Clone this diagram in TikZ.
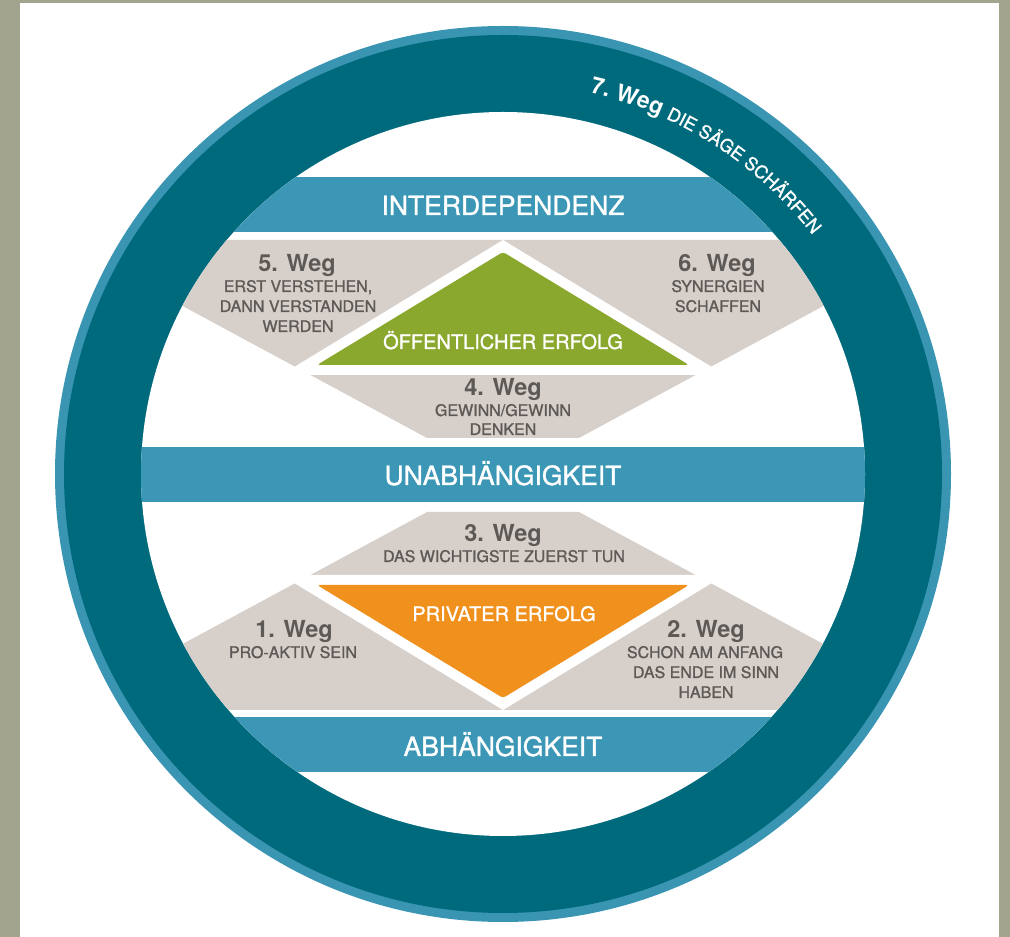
\documentclass[tikz,border=0pt]{standalone}
\usepackage{fontspec}
\setmainfont{TeX Gyre Heros}
\newfontfamily\medfont[FakeBold=1.2]{TeX Gyre Heros}
\usetikzlibrary{decorations.text}
\definecolor{bgolive}{HTML}{A2A48D}
\definecolor{ringdark}{HTML}{006A7D}
\definecolor{ringrim}{HTML}{3A95B3}
\definecolor{bandblue}{HTML}{3B97B5}
\definecolor{wegfill}{HTML}{D7D0CA}
\definecolor{greenfill}{HTML}{8AA72E}
\definecolor{orangefill}{HTML}{F0901D}
\definecolor{wegtext}{HTML}{5D5957}
\tikzset{
  bandtxt/.style={text=white, font=\medfont\fontsize{26.5}{26.5}\selectfont, anchor=base, inner sep=0pt},
  wegtitle/.style={text=wegtext, font=\bfseries\fontsize{23.5}{23.5}\selectfont, anchor=base, inner sep=0pt},
  wegline/.style={text=wegtext, font=\medfont\fontsize{16}{16}\selectfont, anchor=base, inner sep=0pt},
  erfolgtxt/.style={text=white, font=\medfont\fontsize{20}{20}\selectfont, anchor=base, inner sep=0pt},
}
\begin{document}
\begin{tikzpicture}[x=1pt,y=1pt]
\useasboundingbox (0,0) rectangle (1010,937);
\fill[bgolive] (0,0) rectangle (1010,937);
\fill[white] (20,0) rectangle (999,934);
\coordinate (C) at (503,463);
% ring
\fill[ringrim] (C) circle[radius=448];
\fill[ringdark] (C) circle[radius=439];
\fill[white] (C) circle[radius=362];
\begin{scope}
  \clip (C) circle[radius=362];
  % bands
  \fill[bandblue] (0,705) rectangle (1010,760);
  \fill[bandblue] (0,435) rectangle (1010,490);
  \fill[bandblue] (0,165) rectangle (1010,220);
  % upper grey truncated triangle
  \fill[wegfill] (60.4,697) -- (945.6,697) -- (578.9,499) -- (427.1,499) -- cycle;
  \fill[white] (503,697) -- (725,562) -- (281,562) -- cycle;
  \fill[greenfill, rounded corners=3pt] (503,685) -- (689,572) -- (317,572) -- cycle;
  % lower grey truncated triangle
  \fill[wegfill] (427.1,425) -- (578.9,425) -- (945.6,227) -- (60.4,227) -- cycle;
  \fill[white] (281,362) -- (725,362) -- (503,227) -- cycle;
  \fill[orangefill, rounded corners=3pt] (317,352) -- (689,352) -- (503,239) -- cycle;
\end{scope}
% band labels
\node[bandtxt] (interdep) at (503,722) {INTERDEPENDENZ};
\node[bandtxt] (unabh) at (503,452) {UNABHÄNGIGKEIT};
\node[bandtxt] (abh) at (503,181) {ABHÄNGIGKEIT};
% 5. Weg
\node[wegtitle] (w5) at (297,665) {5. Weg};
\node[wegline] (w5a) at (298,645) {ERST VERSTEHEN,};
\node[wegline] (w5b) at (298,625) {DANN VERSTANDEN};
\node[wegline] (w5c) at (298,605) {WERDEN};
% 6. Weg
\node[wegtitle] (w6) at (717,665) {6. Weg};
\node[wegline] (w6a) at (718,645) {SYNERGIEN};
\node[wegline] (w6b) at (718,625) {SCHAFFEN};
% 4. Weg
\node[wegtitle] (w4) at (503,541) {4. Weg};
\node[wegline] (w4a) at (503,521) {GEWINN/GEWINN};
\node[wegline] (w4b) at (503,502) {DENKEN};
% public success
\node[erfolgtxt] (oeff) at (503,588) {ÖFFENTLICHER ERFOLG};
% 3. Weg
\node[wegtitle] (w3) at (503,395) {3. Weg};
\node[wegline] (w3a) at (504,375) {DAS WICHTIGSTE ZUERST TUN};
% private success
\node[erfolgtxt] (priv) at (504,316) {PRIVATER ERFOLG};
% 1. Weg
\node[wegtitle] (w1) at (294,299) {1. Weg};
\node[wegline] (w1a) at (293,279) {PRO-AKTIV SEIN};
% 2. Weg
\node[wegtitle] (w2) at (706,299) {2. Weg};
\node[wegline] (w2a) at (705,279) {SCHON AM ANFANG};
\node[wegline] (w2b) at (706,259) {DAS ENDE IM SINN};
\node[wegline] (w2c) at (706,239) {HABEN};
% 7. Weg along the ring
\path[decorate, decoration={text along path, text color=white,
  text={|\bfseries\fontsize{23}{23}\selectfont|7. Weg |\medfont\fontsize{18}{18}\selectfont|DIE SÄGE SCHÄRFEN}}]
  (C) ++(77.2:391) arc[start angle=77.2, end angle=15, radius=391];
\end{tikzpicture}
\end{document}
